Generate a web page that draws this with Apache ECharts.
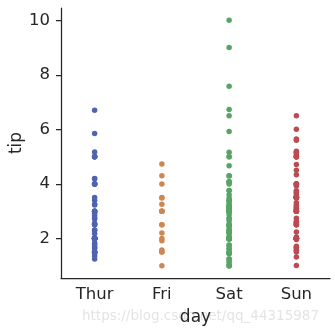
<!DOCTYPE html>
<html>
<head>
<meta charset="utf-8">
<script src="https://cdn.jsdelivr.net/npm/echarts@6/dist/echarts.min.js"></script>
<style>html,body{margin:0;padding:0;background:#fff}#c{width:335px;height:335px}</style>
</head>
<body>
<div id="c"></div>
<script>
const categories = ['Thur', 'Fri', 'Sat', 'Sun'];
const yTicks = [2, 4, 6, 8, 10];
const tipThur = [4.00, 3.00, 2.71, 3.00, 3.40, 1.83, 5.00, 2.03, 5.17, 2.00, 4.00, 5.85, 3.00,
  1.50, 1.80, 2.92, 2.31, 1.68, 2.50, 2.00, 2.52, 4.20, 1.48, 2.00, 2.00, 2.18, 1.50, 2.83, 1.50, 2.00, 3.25, 1.25, 2.00, 2.00, 2.00, 2.75, 3.50, 6.70, 5.00, 5.00, 2.30, 1.50, 1.36, 1.63, 1.73, 2.00,
  4.19, 2.56, 2.02, 4.00, 1.44, 2.00, 5.00, 2.00, 2.00, 4.00, 2.01, 2.00, 2.50, 4.00, 3.23, 3.00];
const tipFri = [3.00, 3.50, 1.00, 4.30, 3.25, 4.73, 4.00, 1.50, 3.00, 1.50, 2.50, 3.00,
  2.20, 3.48, 1.92, 3.00, 1.58, 2.50, 2.00];
const tipSat = [3.35, 4.08, 2.75, 2.23, 7.58, 3.18, 2.34, 2.00, 2.00, 4.30, 3.00, 1.45, 2.50, 3.00, 2.45, 3.27, 3.60, 2.00, 3.07, 2.31, 5.00, 2.24,
  3.00, 1.50, 1.76, 6.73, 3.21, 2.00, 1.98, 3.76, 2.64, 3.15, 2.47, 1.00, 2.01, 2.09, 1.97, 3.00, 3.14, 5.00, 2.20, 1.25, 3.08,
  2.50, 3.48, 4.08, 1.64, 4.06, 4.29, 3.76, 4.00, 3.00, 1.00,
  1.61, 2.00, 10.00, 3.16,
  3.41, 3.00, 2.03, 2.23, 2.00, 5.16, 9.00, 2.50, 6.50, 1.10, 3.00, 1.50, 1.44, 3.09,
  3.00, 2.72, 2.88, 2.00, 3.00, 3.39, 1.47, 3.00, 1.25, 1.00, 1.17, 4.67, 5.92, 2.00, 2.00, 1.75];
const tipSun = [1.01, 1.66, 3.50, 3.31, 3.61, 4.71, 2.00, 3.12, 1.96, 3.23, 1.71, 5.00, 1.57, 3.00, 3.02, 3.92, 1.67, 3.71, 3.50,
  2.54, 3.06, 1.32, 5.60, 3.00, 5.00, 6.00, 2.05, 3.00, 2.50, 2.60, 5.20, 1.56, 4.34, 3.51,
  4.00, 2.55, 4.00, 3.50, 5.07,
  2.50, 2.00, 2.74, 2.00, 2.00, 5.14, 5.00, 3.75, 2.61, 2.00, 3.50, 2.50, 2.00, 2.00, 3.00, 3.48, 2.24, 4.50,
  5.15, 3.18, 4.00, 3.11, 2.00, 2.00, 4.00, 3.55, 3.68, 5.65, 3.50, 6.50, 3.00, 5.00, 3.50, 2.00, 3.50, 4.00, 1.50];
const seriesValues = [tipThur, tipFri, tipSat, tipSun];
const colors = ['#5063ad', '#cd8753', '#57a464', '#bd4a52'];

const chart = echarts.init(document.getElementById('c'), null, {renderer: 'canvas'});
const FONT = 'DejaVu Sans';
const INK = '#262626';
chart.setOption({
  animation: false,
  backgroundColor: '#fff',
  grid: {left: 61, right: 5, top: 8, bottom: 57, containLabel: false, outerBoundsMode: 'none'},
  graphic: [{
    type: 'text', left: 82, top: 309, z: -10,
    style: {text: 'https://blog.csdn.net/qq_44315987', font: '13.5px "DejaVu Sans"', fill: '#e4e4e4'}
  }],
  xAxis: {
    type: 'category', data: categories, boundaryGap: true,
    name: 'day', nameLocation: 'middle', nameGap: 31, nameMoveOverlap: false,
    nameTextStyle: {fontFamily: FONT, fontSize: 17, color: INK},
    axisLine: {lineStyle: {color: INK, width: 1.25}},
    axisTick: {alignWithLabel: true, length: 5, lineStyle: {color: INK, width: 1.25}},
    axisLabel: {fontFamily: FONT, fontSize: 16.5, color: INK, margin: 8},
    splitLine: {show: false}
  },
  yAxis: {
    type: 'value', min: 0.55, max: 10.45,
    name: 'tip', nameLocation: 'middle', nameGap: 36, nameMoveOverlap: false,
    nameTextStyle: {fontFamily: FONT, fontSize: 17, color: INK},
    axisLine: {show: true, lineStyle: {color: INK, width: 1.25}},
    axisTick: {show: true, length: 5, lineStyle: {color: INK, width: 1.25},
      customValues: yTicks},
    axisLabel: {fontFamily: FONT, fontSize: 16.5, color: INK, margin: 11,
      customValues: yTicks},
    splitLine: {show: false}
  },
  series: seriesValues.map((vals, i) => ({
    type: 'scatter',
    symbolSize: 5.5,
    itemStyle: {color: colors[i], opacity: 1},
    data: vals.map(v => [categories[i], v])
  }))
});
</script>
</body>
</html>
